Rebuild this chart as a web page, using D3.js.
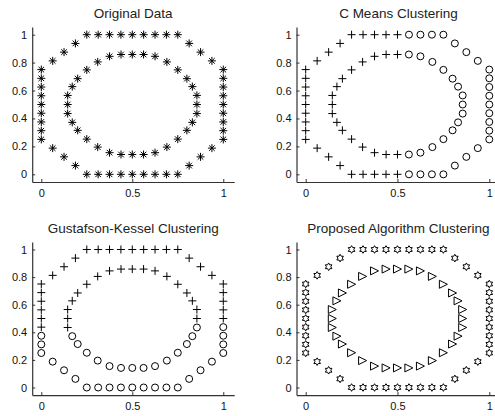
<!DOCTYPE html>
<html>
<head>
<meta charset="utf-8">
<script src="https://cdn.jsdelivr.net/npm/d3@7"></script>
<style>
  body { margin: 0; background: #fff; }
  svg { display: block; }
  .tick text { font-family: "Liberation Sans", Arial, sans-serif; font-size: 11px; fill: #111; }
  .title { font-family: "Liberation Sans", Arial, sans-serif; font-size: 13.5px; fill: #222; }
</style>
</head>
<body>
<div id="chart"></div>
<script>
// outer octagon ring (bottom row, corners, sides ...)
const outerPoints = [
  [0.25, 0], [0.3125, 0], [0.375, 0], [0.4375, 0], [0.5, 0], [0.5625, 0], [0.625, 0], [0.6875, 0], [0.75, 0],
  [0.8125, 0.0625], [0.875, 0.125], [0.9375, 0.1875],
  [1, 0.25], [1, 0.3125], [1, 0.375], [1, 0.4375], [1, 0.5], [1, 0.5625], [1, 0.625], [1, 0.6875], [1, 0.75],
  [0.9375, 0.8125], [0.875, 0.875], [0.8125, 0.9375],
  [0.75, 1], [0.6875, 1], [0.625, 1], [0.5625, 1], [0.5, 1], [0.4375, 1], [0.375, 1], [0.3125, 1], [0.25, 1],
  [0.1875, 0.9375], [0.125, 0.875], [0.0625, 0.8125],
  [0, 0.75], [0, 0.6875], [0, 0.625], [0, 0.5625], [0, 0.5], [0, 0.4375], [0, 0.375], [0, 0.3125], [0, 0.25],
  [0.0625, 0.1875], [0.125, 0.125], [0.1875, 0.0625]
];

// inner ring, counter clockwise from the right middle point
const innerPoints = [
  [0.855, 0.5], [0.855, 0.565], [0.83, 0.628], [0.8, 0.685], [0.75, 0.748], [0.69, 0.805], [0.625, 0.845], [0.562, 0.858],
  [0.5, 0.858], [0.438, 0.858], [0.375, 0.845], [0.31, 0.805], [0.25, 0.748], [0.2, 0.685], [0.17, 0.628], [0.145, 0.565],
  [0.145, 0.5], [0.145, 0.435], [0.17, 0.372], [0.2, 0.315], [0.25, 0.252], [0.31, 0.195], [0.375, 0.155], [0.438, 0.142],
  [0.5, 0.142], [0.562, 0.142], [0.625, 0.155], [0.69, 0.195], [0.75, 0.252], [0.8, 0.315], [0.83, 0.372], [0.855, 0.435]
];

// cluster markers per point ("+" plus, "o" circle, "*" asterisk, "h" hexagram, ">" triangle)
const cmeansOuter = "+++++oooo ooo ooooooooo ooo oooo+++++ +++ +++++++++ +++".replace(/ /g, "");
const cmeansInner = "oooooooo +++++++++++++++++ ooooooo".replace(/ /g, "");
const gkOuter = "ooooooooo ooo oooo+++++ +++ +++++++++ +++ ++++++ooo ooo".replace(/ /g, "");
const gkInner = "++++++++++++++++++ oooooooooooooo".replace(/ /g, "");

const titles = ["Original Data", "C Means Clustering", "Gustafson-Kessel Clustering", "Proposed Algorithm Clustering"];
const xTicks = [0, 0.5, 1];
const yTicks = [0, 0.2, 0.4, 0.6, 0.8, 1];

const panels = [
  { title: titles[0], outer: "*", inner: "*", box: { left: 32.2, right: 234.2, top: 27, bottom: 182 } },
  { title: titles[1], outer: cmeansOuter, inner: cmeansInner, box: { left: 296.5, right: 500.3, top: 27, bottom: 182 } },
  { title: titles[2], outer: gkOuter, inner: gkInner, box: { left: 32.2, right: 234.2, top: 241.9, bottom: 395.1 } },
  { title: titles[3], outer: "h", inner: ">", box: { left: 296.5, right: 500.3, top: 241.9, bottom: 395.1 } }
];

const W = 495, H = 416;
const svg = d3.select("#chart").append("svg")
  .attr("width", W)
  .attr("height", H);

// marker shapes centred on 0,0
function markerPath(kind) {
  const p = d3.path();
  if (kind === "+") {
    p.moveTo(-4, 0); p.lineTo(4, 0);
    p.moveTo(0, -4); p.lineTo(0, 4);
  } else if (kind === "*") {
    p.moveTo(-4, 0); p.lineTo(4, 0);
    p.moveTo(0, -4); p.lineTo(0, 4);
    p.moveTo(-2.8, -2.8); p.lineTo(2.8, 2.8);
    p.moveTo(-2.8, 2.8); p.lineTo(2.8, -2.8);
  } else if (kind === "o") {
    p.arc(0, 0, 3.5, 0, 2 * Math.PI);
  } else if (kind === ">") {
    p.moveTo(4, 0); p.lineTo(-4, -4); p.lineTo(-4, 4); p.closePath();
  } else if (kind === "h") {
    const R = 3.8, r = R / Math.sqrt(3);
    for (let k = 0; k < 12; k++) {
      const a = -Math.PI / 2 + k * Math.PI / 6;
      const rad = k % 2 === 0 ? R : r;
      if (k === 0) p.moveTo(rad * Math.cos(a), rad * Math.sin(a));
      else p.lineTo(rad * Math.cos(a), rad * Math.sin(a));
    }
    p.closePath();
  }
  return p.toString();
}

function pick(str, i) {
  return str.length === 1 ? str : str[i];
}

panels.forEach(function (panel) {
  const b = panel.box;
  const x = d3.scaleLinear().domain([-0.05, 1.06]).range([b.left, b.right]);
  const y = d3.scaleLinear().domain([-0.055, 1.055]).range([b.bottom, b.top]);

  const g = svg.append("g");

  // axes (MATLAB style, box off, ticks inside)
  const xAxis = g.append("g")
    .attr("transform", `translate(0,${b.bottom})`)
    .call(d3.axisBottom(x).tickValues(xTicks).tickFormat(d3.format("")).tickSizeInner(-3).tickSizeOuter(0).tickPadding(7.5));
  const yAxis = g.append("g")
    .attr("transform", `translate(${b.left},0)`)
    .call(d3.axisLeft(y).tickValues(yTicks).tickFormat(d3.format("")).tickSizeInner(-3).tickSizeOuter(0).tickPadding(5));
  [xAxis, yAxis].forEach(function (a) {
    a.select(".domain").attr("stroke", "#333").attr("stroke-width", 1.2);
    a.selectAll(".tick line").attr("stroke", "#333");
  });

  g.append("text")
    .attr("class", "title")
    .attr("x", (b.left + b.right) / 2)
    .attr("y", b.top - 9)
    .attr("text-anchor", "middle")
    .text(panel.title);

  const pts = outerPoints.map((d, i) => ({ x: d[0], y: d[1], m: pick(panel.outer, i) }))
    .concat(innerPoints.map((d, i) => ({ x: d[0], y: d[1], m: pick(panel.inner, i) })));

  g.selectAll(".mark")
    .data(pts)
    .join("path")
    .attr("class", "mark")
    .attr("transform", d => `translate(${x(d.x)},${y(d.y)})`)
    .attr("d", d => markerPath(d.m))
    .attr("fill", "none")
    .attr("stroke", "#000")
    .attr("stroke-width", 1);
});
</script>
</body>
</html>
